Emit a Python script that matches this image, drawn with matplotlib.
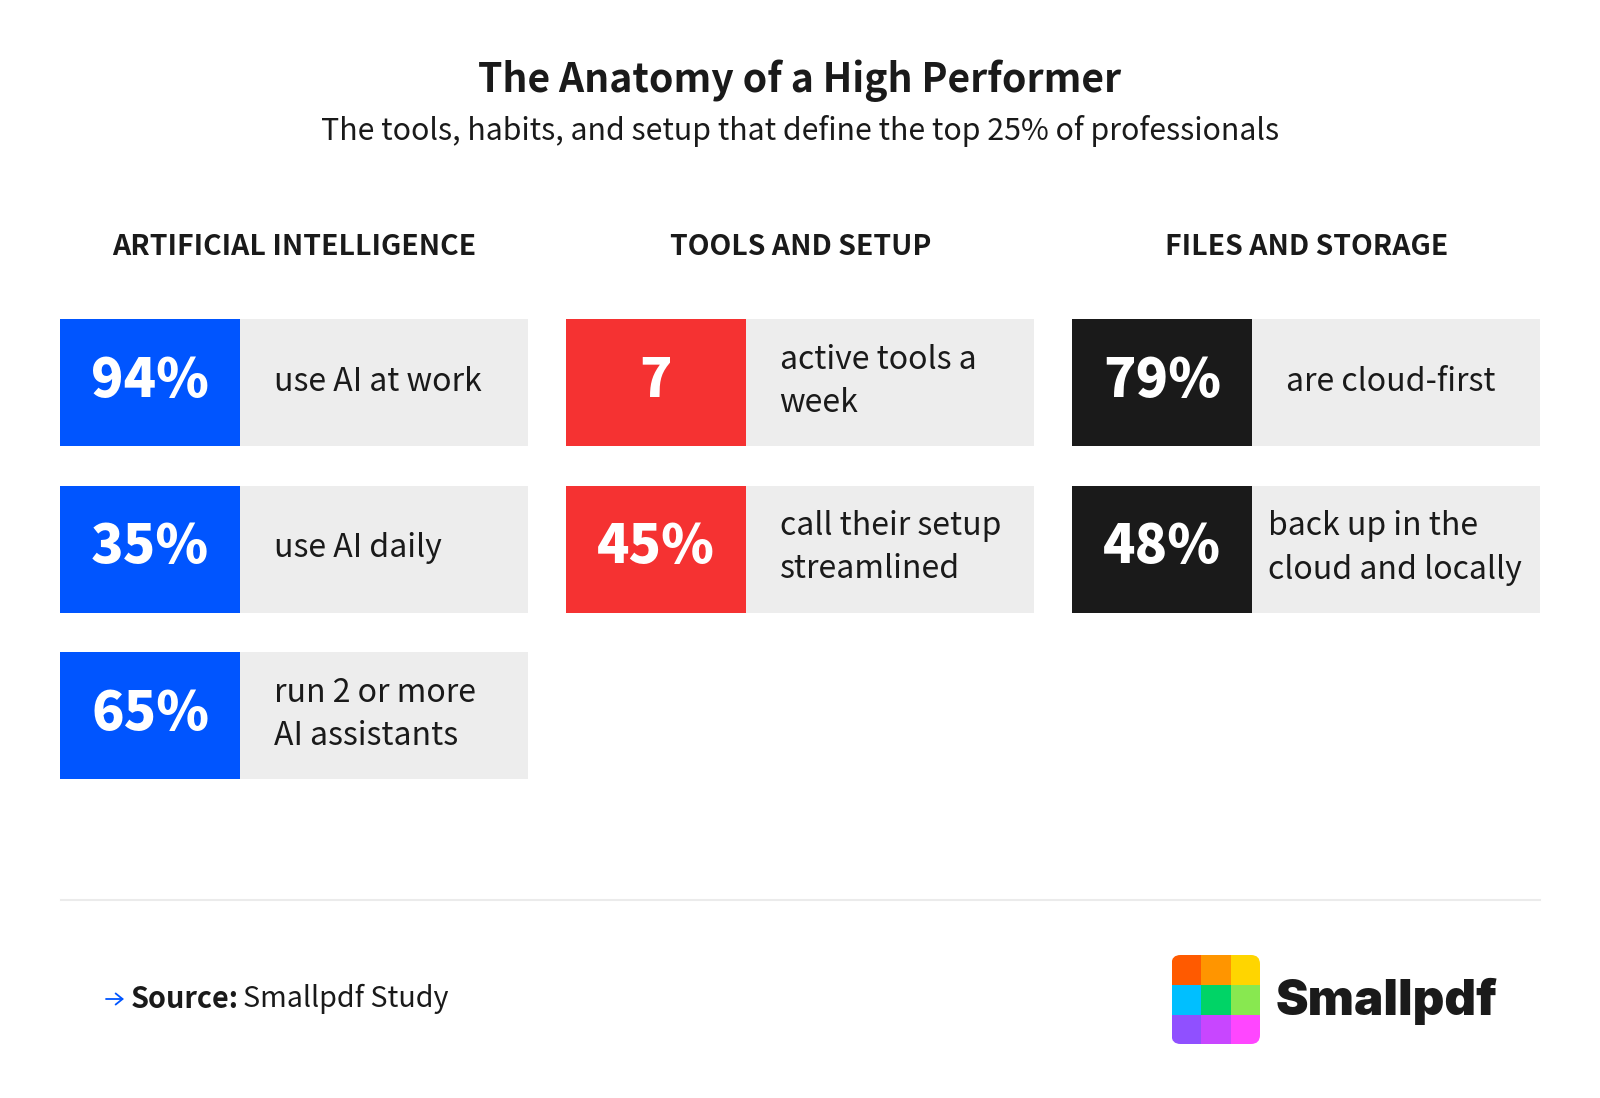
import matplotlib

matplotlib.use("Agg")
import matplotlib.pyplot as plt
from matplotlib.patches import FancyBboxPatch, Rectangle, FancyArrowPatch

W, H = 1600, 1098
FONT = ["Noto Sans CJK JP", "DejaVu Sans"]

title = "The Anatomy of a High Performer"
subtitle = "The tools, habits, and setup that define the top 25% of professionals"

groups = ["ARTIFICIAL INTELLIGENCE", "TOOLS AND SETUP", "FILES AND STORAGE"]
group_colors = ["#0055ff", "#f53232", "#1a1a1a"]
group_values = [["94%", "35%", "65%"], ["7", "45%"], ["79%", "48%"]]
group_labels = [
    ["use AI at work", "use AI daily", "run 2 or more\nAI assistants"],
    ["active tools a\nweek", "call their setup\nstreamlined"],
    ["are cloud-first", "back up in the\ncloud and locally"],
]

logo_colors = [
    ["#ff5a00", "#ff9500", "#ffd500"],
    ["#00bfff", "#00d466", "#88e850"],
    ["#9050ff", "#c846ff", "#ff46ff"],
]

plt.rcParams["font.family"] = FONT

fig = plt.figure(figsize=(W / 100, H / 100), dpi=100, facecolor="white")
ax = fig.add_axes([0, 0, 1, 1])
ax.set_xlim(0, W)
ax.set_ylim(H, 0)
ax.axis("off")

ink = "#1a1a1a"
ax.text(800, 81, title, ha="center", va="center", fontsize=28.2, fontweight="bold", color=ink)
ax.text(800, 131, subtitle, ha="center", va="center", fontsize=21.8, color=ink)

col_x = [60, 566, 1072]
row_y = [319, 485.5, 652]
box_h = 127
num_w = 180
box_w = 468
for x, name, color, values, labels in zip(col_x, groups, group_colors, group_values, group_labels):
    ax.text(x + box_w / 2 + 0.5, 247, name, ha="center", va="center", fontsize=20.45, fontweight="bold", color=ink)
    for y, value, label in zip(row_y, values, labels):
        ax.add_patch(Rectangle((x + num_w, y), box_w - num_w, box_h, facecolor="#ededed", edgecolor="none"))
        ax.add_patch(Rectangle((x, y), num_w, box_h, facecolor=color, edgecolor="none"))
        ax.text(x + 90, y + 62.5, value, ha="center", va="center", fontsize=38.5, fontweight="black", color="white")
        # the one long label starts further left so it fits its box
        text_x = x + 196.5 if "locally" in label else x + 213.5
        if "\n" in label:
            top, bottom = label.split("\n")
            ax.text(text_x, y + 41, top, ha="left", va="center", fontsize=23.05, color=ink)
            ax.text(text_x, y + 84, bottom, ha="left", va="center", fontsize=23.05, color=ink)
        else:
            ax.text(text_x, y + 63, label, ha="left", va="center", fontsize=23.05, color=ink)

ax.plot([60.5, 1539.5], [900, 900], color="#ebebeb", lw=1.5)

# source line
ax.add_patch(FancyArrowPatch((106, 999), (124, 999), arrowstyle="->,head_length=5,head_width=4", color="#0055ff", lw=1.3, shrinkA=0, shrinkB=0))
ax.text(131, 999, "Source:", ha="left", va="center", fontsize=20.7, fontweight="bold", color=ink)
ax.text(243, 999, "Smallpdf Study", ha="left", va="center", fontsize=20.7, color=ink)

# logo
logo_x = [1171.5, 1201, 1231, 1260]
logo_y = [955, 985, 1015, 1044]
clip = FancyBboxPatch((1171.5, 955), 88.5, 89, boxstyle="round,pad=0,rounding_size=9", facecolor="none", edgecolor="none")
ax.add_patch(clip)
for r, row in enumerate(logo_colors):
    for c, color in enumerate(row):
        cell = Rectangle((logo_x[c], logo_y[r]), logo_x[c + 1] - logo_x[c], logo_y[r + 1] - logo_y[r], facecolor=color, edgecolor="none")
        ax.add_patch(cell)
        cell.set_clip_path(clip)
ax.text(1276, 1001, "Smallpdf", ha="left", va="center", fontsize=35.3, fontweight="black", family="Inter", color=ink)

fig.savefig("out.png", dpi=100)
plt.close(fig)
